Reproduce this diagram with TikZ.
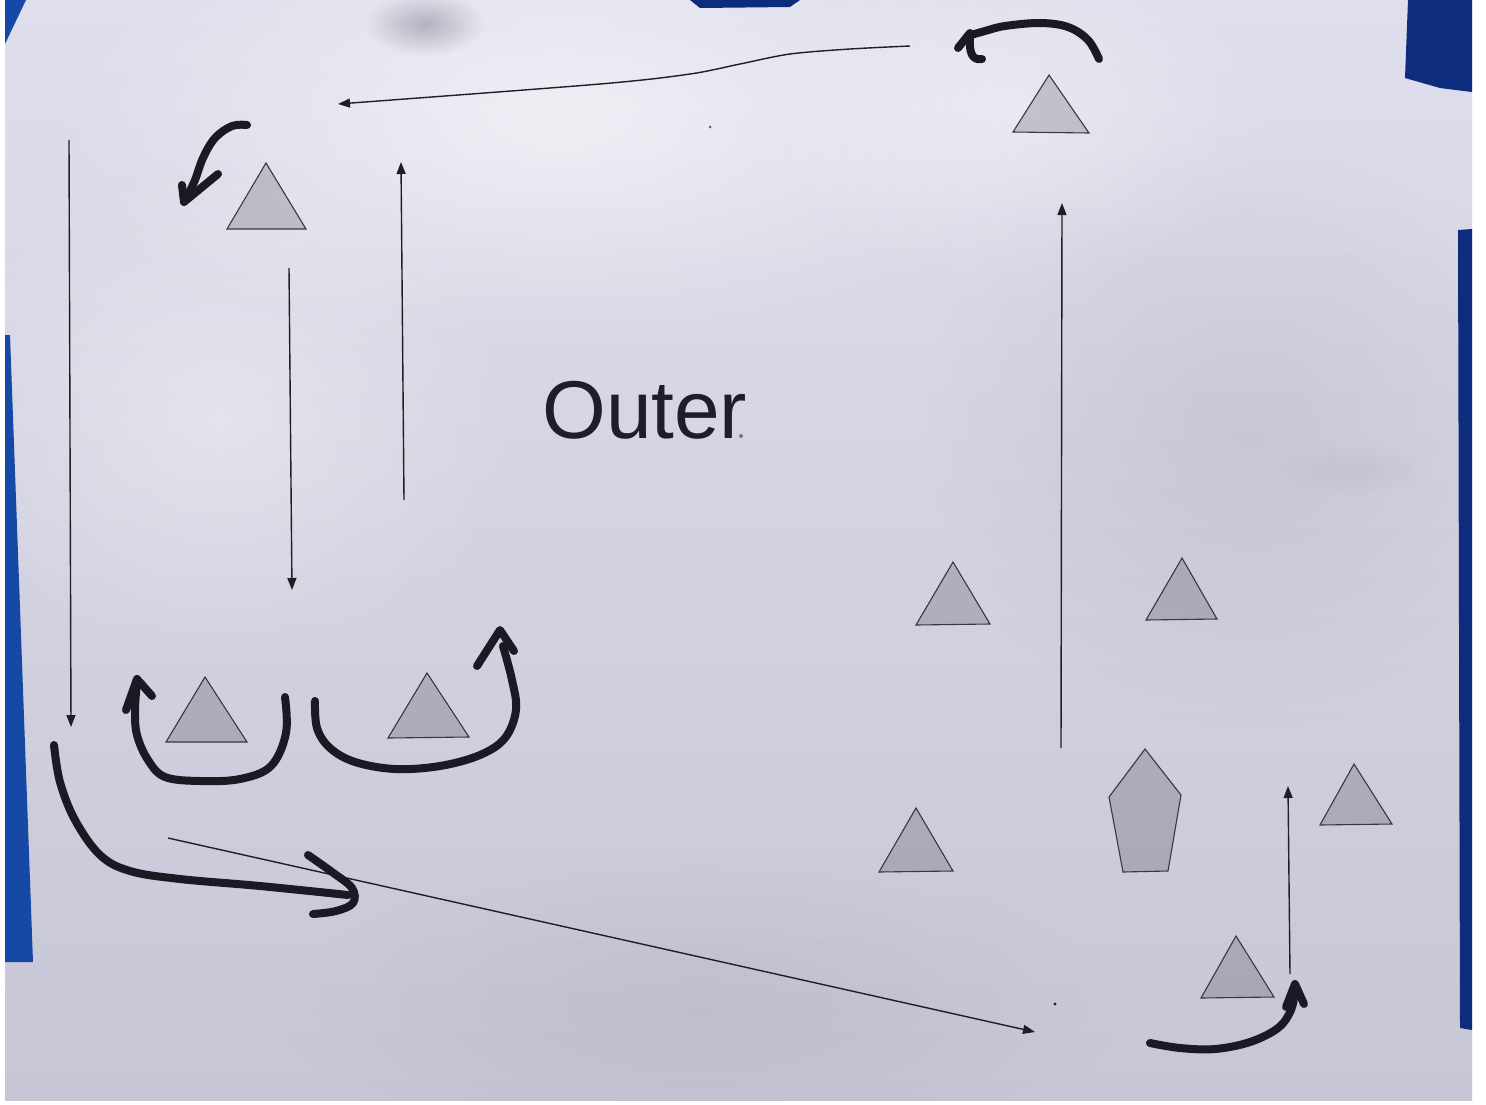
\documentclass[tikz,border=0pt]{standalone}
\usepackage{fontspec}
\setmainfont{Liberation Sans}
\usetikzlibrary{arrows.meta,fadings}

\definecolor{paperTop}{RGB}{222,222,236}
\definecolor{paperBot}{RGB}{198,198,214}
\definecolor{tapeL}{RGB}{22,72,165}
\definecolor{tapeR}{RGB}{14,44,125}
\definecolor{ink}{RGB}{30,30,40}
\definecolor{pen}{RGB}{26,26,36}
\definecolor{edge}{RGB}{55,55,68}
\definecolor{dim}{RGB}{100,100,120}

\tikzfading[name=softspot, inner color=transparent!0, outer color=transparent!100]

\tikzset{
  cone/.style={draw=edge, line width=1.1pt, line join=miter, fill=black, fill opacity=0.16},
  flow/.style={draw=ink, line width=1.4pt, -{Triangle[length=12pt,width=9pt]}},
  marker/.style={draw=pen, line width=8pt, line cap=round, line join=round},
  glow/.style={fill=white, path fading=softspot},
  shadow/.style={fill=dim, path fading=softspot}
}

\begin{document}
\begin{tikzpicture}[x=1pt,y=-1pt]
\useasboundingbox (0,0) rectangle (1486,1104);

% sheet of paper, lit from the top
\fill[white] (0,0) rectangle (1486,1104);
\shade[top color=paperTop, bottom color=paperBot] (5,0) rectangle (1472,1100);
\begin{scope}
  \clip (5,0) rectangle (1472,1100);
  \fill[glow, opacity=0.55] (560,120) ellipse (520 and 230);
  \fill[glow, opacity=0.35] (220,420) ellipse (300 and 260);
  \fill[glow, opacity=0.35] (1020,110) ellipse (260 and 180);
  \fill[shadow, opacity=0.12] (1250,430) ellipse (330 and 300);
  \fill[shadow, opacity=0.10] (700,1010) ellipse (420 and 160);
  \fill[shadow, opacity=0.40] (425,24) ellipse (60 and 32);
  \fill[shadow, opacity=0.08] (1350,470) ellipse (80 and 25);
\end{scope}

% tape on the edges
\fill[tapeL] (5,0) -- (26,0) -- (5,44) -- cycle;
\fill[tapeL] (5,335) -- (10,335) -- (33,962) -- (5,962) -- cycle;
\fill[tapeR] (690,0) -- (800,0) -- (790,7) -- (700,8) -- cycle;
\fill[tapeR] (1408,0) -- (1472,0) -- (1472,92) -- (1440,88) -- (1405,78) -- cycle;
\fill[tapeR] (1458,230) -- (1472,229) -- (1472,1030) -- (1460,1028) -- cycle;

% cones
\path[cone] (266,163) -- (306,229) -- (227,229) -- cycle;
\path[cone] (1049,75) -- (1089,133) -- (1013,132) -- cycle;
\path[cone] (205,677) -- (247,742) -- (166,742) -- cycle;
\path[cone] (427,673) -- (469,737) -- (388,738) -- cycle;
\path[cone] (953,562) -- (990,624) -- (916,625) -- cycle;
\path[cone] (1182,558) -- (1217,619) -- (1146,620) -- cycle;
\path[cone] (1354,764) -- (1392,824) -- (1320,825) -- cycle;
\path[cone] (916,808) -- (953,871) -- (879,872) -- cycle;
\path[cone] (1236,936) -- (1274,997) -- (1201,998) -- cycle;
\path[cone] (1145,749) -- (1181,795) -- (1168,871) -- (1123,872) -- (1109,797) -- cycle;

% title
\node[font=\fontsize{82}{90}\selectfont, text=ink, inner sep=0pt, anchor=base west] (outer) at (542,438) {Outer};

% end points of the printed arrows
\coordinate (topS) at (910,46);   \coordinate (topE) at (338,104);
\coordinate (leftS) at (69,140);  \coordinate (leftE) at (71,727);
\coordinate (midS) at (289,268);  \coordinate (midE) at (292,590);
\coordinate (upS) at (404,500);   \coordinate (upE) at (401,162);
\coordinate (rightS) at (1061,748); \coordinate (rightE) at (1062,203);
\coordinate (diagS) at (168,838); \coordinate (diagE) at (1035,1032);
\coordinate (shortS) at (1290,974); \coordinate (shortE) at (1288,786);

% printed arrows
\draw[flow] plot[smooth, tension=0.5] coordinates {(topS) (850,49) (790,54) (740,64) (690,74) (600,84) (topE)};
\draw[flow] (leftS) -- (leftE);
\draw[flow] (midS) -- (midE);
\draw[flow] (upS) -- (upE);
\draw[flow] (rightS) -- (rightE);
\draw[flow] (diagS) -- (diagE);
\draw[flow] (shortS) -- (shortE);

% hand-drawn marker arrows
\draw[marker] plot[smooth, tension=0.6] coordinates {(247,125) (232,126) (215,138) (203,158) (195,180) (186,199)};
\draw[marker] (182,185) -- (184,202) -- (218,174);

\draw[marker] plot[smooth, tension=0.6] coordinates {(1099,59) (1088,40) (1068,27) (1040,23) (1005,26) (985,31) (971,35)};
\draw[marker] (958,48) -- (970,33);
\draw[marker] (970,38) .. controls (969,52) and (972,61) .. (982,59);

\draw[marker] plot[smooth, tension=0.6] coordinates {(285,697) (286,733) (271,766) (240,779) (200,781) (165,777) (148,760) (137,735) (135,710) (137,682)};
\draw[marker] (126,710) -- (137,679) -- (152,696);

\draw[marker] plot[smooth, tension=0.6] coordinates {(315,701) (317,728) (330,748) (355,762) (395,769) (440,766) (480,755) (505,738) (516,710) (512,680) (503,646)};
\draw[marker] (477,666) -- (500,630) -- (514,651);

\draw[marker] plot[smooth, tension=0.6] coordinates {(54,745) (60,782) (75,820) (100,855) (130,871) (180,879) (260,886) (348,895)};
\draw[marker] plot[smooth, tension=0.6] coordinates {(308,855) (332,872) (352,888) (353,903) (336,911) (313,914)};

\draw[marker] plot[smooth, tension=0.6] coordinates {(1150,1043) (1180,1048) (1215,1049) (1250,1042) (1278,1028) (1291,1010) (1295,990)};
\draw[marker] (1286,1007) -- (1295,984) -- (1304,1004);

% specks on the sheet
\fill[ink] (1055,1004) circle (1.6);
\fill[ink!70] (710,127) circle (1.5);
\fill[ink!60] (741,436) circle (2);
\end{tikzpicture}
\end{document}
